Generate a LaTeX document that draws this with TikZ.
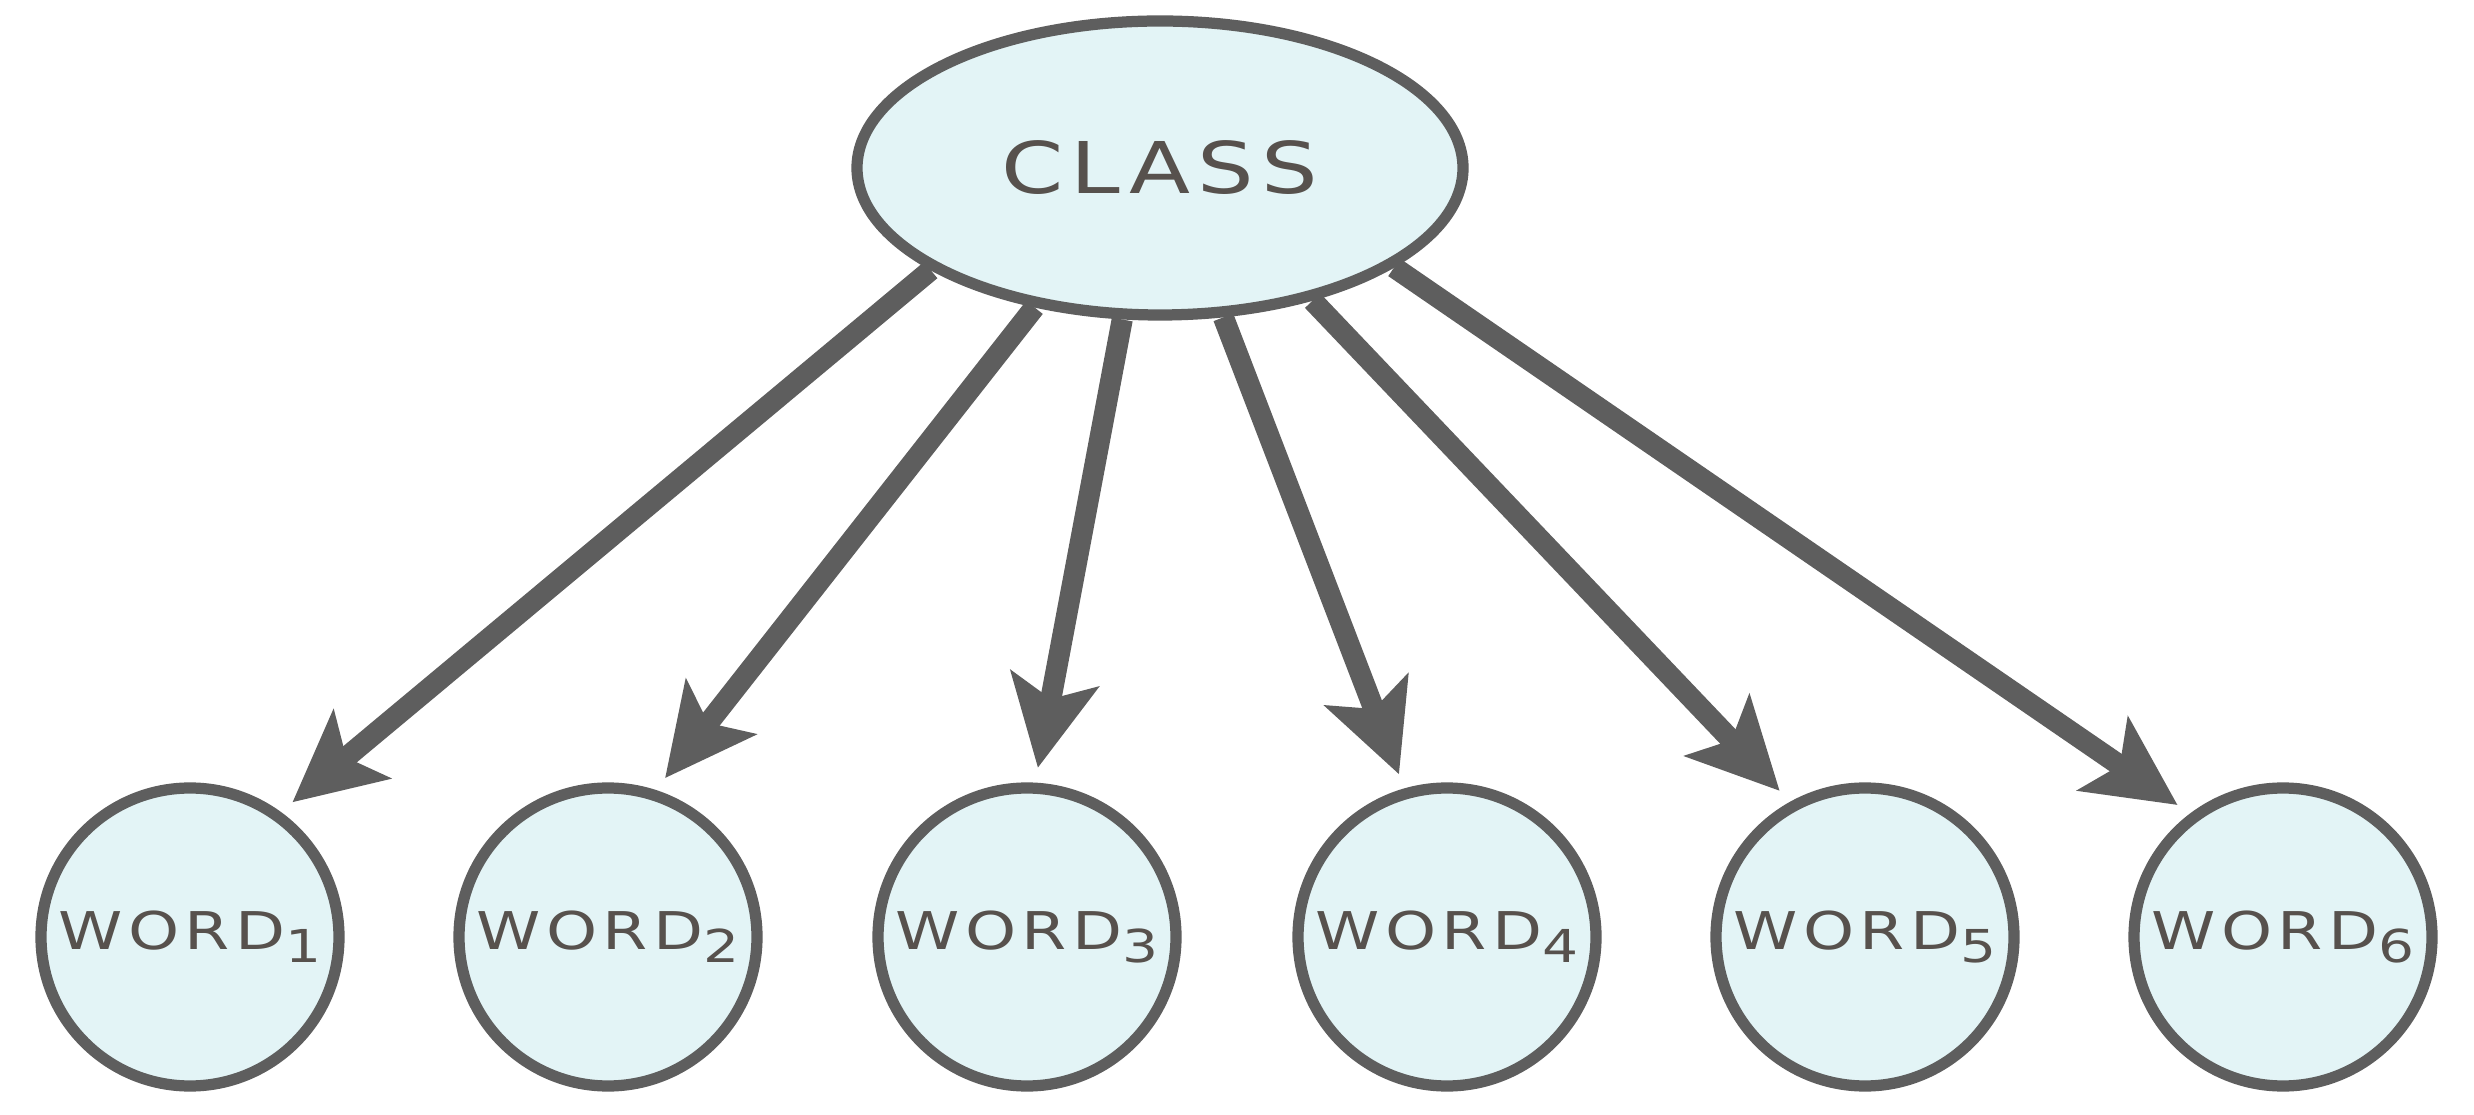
\documentclass[tikz,border=0pt]{standalone}
\usepackage{fontspec}
\usepackage{xcolor}
\usetikzlibrary{arrows.meta,shapes.geometric}
\definecolor{edgegray}{HTML}{5E5E5E}
\definecolor{nodefill}{HTML}{E3F4F6}
\definecolor{textgray}{HTML}{57514D}
\newfontfamily\handfont[FakeStretch=1.25,LetterSpace=10]{DejaVu Sans}
\newcommand{\subidx}[1]{\raisebox{-0.13cm}{\fontsize{12.9}{14}\selectfont#1}}
\tikzset{
  classnode/.style={ellipse,draw=edgegray,fill=nodefill,line width=3.2pt,
    minimum width=6.06cm,minimum height=2.94cm,inner sep=0pt,
    text=textgray,font=\handfont\fontsize{20.3}{24}\selectfont},
  wordnode/.style={circle,draw=edgegray,fill=nodefill,line width=3.2pt,
    minimum size=2.98cm,inner sep=0pt,
    text=textgray,font=\handfont\fontsize{14.8}{20}\selectfont},
  edge/.style={draw=edgegray,line width=6pt,shorten >=0.15cm,
    -{Stealth[length=0.9cm,width=0.88cm,inset=0.2cm]}}
}

\begin{document}
\begin{tikzpicture}
\useasboundingbox (0,0) rectangle (24.74,11.14);

%class
\node[classnode] (class) at (11.60,9.46) {CLASS};

%words
\node[wordnode] (w1) at (1.90,1.77) {WORD\subidx{1}};
\node[wordnode] (w2) at (6.08,1.77) {WORD\subidx{2}};
\node[wordnode] (w3) at (10.27,1.77) {WORD\subidx{3}};
\node[wordnode] (w4) at (14.47,1.77) {WORD\subidx{4}};
\node[wordnode] (w5) at (18.65,1.77) {WORD\subidx{5}};
\node[wordnode] (w6) at (22.83,1.77) {WORD\subidx{6}};

%arrows
\draw[edge] (class.204) -- (w1.54);
\draw[edge] (class.228) -- (w2.72);
\draw[edge] (class.256) -- (w3.87);
\draw[edge] (class.293) -- (w4.106);
\draw[edge] (class.319) -- (w5.119);
\draw[edge] (class.337) -- (w6.127);
\end{tikzpicture}
\end{document}
